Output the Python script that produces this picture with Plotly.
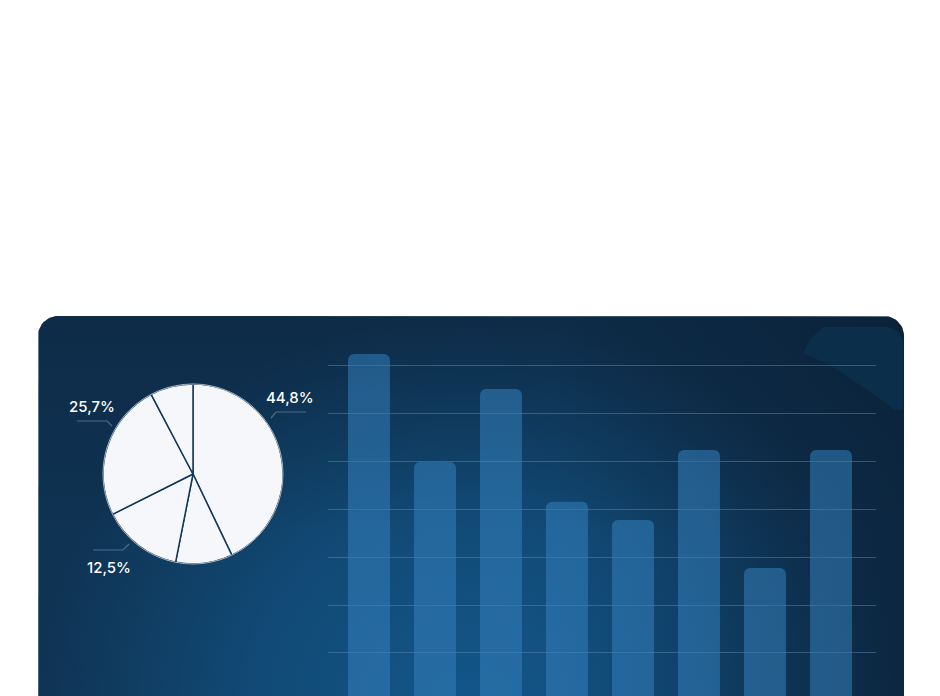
import numpy as np
import plotly.graph_objects as go

# données du camembert (sens horaire depuis midi)
pie_values = [42.9, 10.2, 14.5, 24.7, 7.7]
pie_labels = ["A", "B", "C", "D", "E"]
shown_labels = {0: "44,8%", 3: "25,7%", 2: "12,5%"}

# données des barres
bar_cats = ["B1", "B2", "B3", "B4", "B5", "B6", "B7", "B8"]
bar_values = [72.3, 49.8, 65.0, 41.5, 37.7, 52.3, 27.7, 52.3]

W, H = 940, 696
OFF = 8  # marge de la page
NAVY_LINE = "#12395c"


def paper_x(p):
    return (p - OFF) / W


def paper_y(p):
    return 1 - (p - OFF) / H


def rounded_panel(x0, x1, y0, y1, r, n=16):
    # contour d'un panneau aux coins supérieurs arrondis (coords pixels)
    xs, ys = [x0, x0], [y1, y0 + r]
    t = np.linspace(np.pi, 1.5 * np.pi, n)
    xs += list(x0 + r + r * np.cos(t)); ys += list(y0 + r + r * np.sin(t))
    t = np.linspace(1.5 * np.pi, 2 * np.pi, n)
    xs += list(x1 - r + r * np.cos(t)); ys += list(y0 + r + r * np.sin(t))
    xs += [x1, x0]; ys += [y1, y1]
    return xs, ys


fig = go.Figure()

# panneau de fond, dégradé radial
px, py = rounded_panel(38, 904, 316, 1090, 20)
fig.add_trace(go.Scatter(
    x=px, y=py, mode="lines", fill="toself", line=dict(width=0),
    fillgradient=dict(type="radial",
                      colorscale=[[0, "#13568a"], [0.5, "#114a76"], [1, "#0f3353"]]),
    hoverinfo="skip", showlegend=False, xaxis="x", yaxis="y",
))
# assombrissement côté droit
fig.add_trace(go.Scatter(
    x=px, y=py, mode="lines", fill="toself", line=dict(width=0),
    fillgradient=dict(type="horizontal",
                      colorscale=[[0, "rgba(8,20,36,0)"], [0.6, "rgba(8,20,36,0)"],
                                  [1, "rgba(8,20,36,0.4)"]]),
    hoverinfo="skip", showlegend=False, xaxis="x", yaxis="y",
))
# assombrissement en haut
fig.add_trace(go.Scatter(
    x=px, y=py, mode="lines", fill="toself", line=dict(width=0),
    fillgradient=dict(type="vertical",
                      colorscale=[[0, "rgba(8,20,36,0)"], [0.72, "rgba(8,20,36,0)"],
                                  [1, "rgba(8,20,36,0.25)"]]),
    hoverinfo="skip", showlegend=False, xaxis="x", yaxis="y",
))
# tache en haut à droite
fig.add_trace(go.Scatter(
    x=[823, 888, 897, 903, 903, 895, 860, 830, 803, 810, 823],
    y=[327, 327, 331, 340, 410, 410, 385, 365, 353, 340, 327],
    mode="lines", fill="toself", line=dict(width=0), fillcolor="#0b2e4b",
    hoverinfo="skip", showlegend=False, xaxis="x", yaxis="y",
))

# barres
fig.add_trace(go.Bar(
    x=bar_cats, y=bar_values, width=0.636,
    marker=dict(color="rgba(52,128,187,0.55)", line=dict(width=0)),
    hoverinfo="skip", showlegend=False, xaxis="x2", yaxis="y2",
))

# camembert
fig.add_trace(go.Pie(
    values=pie_values, labels=pie_labels, sort=False, direction="clockwise",
    rotation=0, textinfo="none", hoverinfo="skip", showlegend=False,
    marker=dict(colors=["#f5f7fa"] * len(pie_values),
                line=dict(color=NAVY_LINE, width=1.5)),
    domain=dict(x=[paper_x(103), paper_x(283)], y=[paper_y(564), paper_y(384)]),
))

# étiquettes et lignes de rappel
label_pos = {0: (290, 397), 3: (92, 406), 2: (109, 567)}
leaders = {
    0: [(271, 418), (276, 412), (306, 412)],
    3: [(77, 421), (107, 421), (112, 426)],
    2: [(93, 550), (123, 550), (129, 544)],
}
annotations = []
shapes = []
for i, txt in shown_labels.items():
    lx, ly = label_pos[i]
    annotations.append(dict(
        x=lx, y=ly, xref="x", yref="y", text=txt, showarrow=False,
        font=dict(family="Inter, Noto Sans, sans-serif", size=15, color="#ffffff", weight=500),
    ))
    pts = leaders[i]
    path = "M " + " L ".join(f"{a},{b}" for a, b in pts)
    shapes.append(dict(type="path", path=path, xref="x", yref="y",
                       line=dict(color="#4f6d8a", width=1.2)))

# liseré gris du disque
shapes.append(dict(type="circle", xref="x", yref="y", x0=103, x1=283, y0=384, y1=564,
                   line=dict(color="#a9b4bf", width=1), layer="above"))

fig.update_layout(
    width=W, height=H,
    margin=dict(l=0, r=0, t=0, b=0),
    paper_bgcolor="#ffffff", plot_bgcolor="rgba(0,0,0,0)",
    barcornerradius=6,
    xaxis=dict(range=[OFF, W + OFF], domain=[0, 1], visible=False, fixedrange=True),
    yaxis=dict(range=[H + OFF, OFF], domain=[0, 1], visible=False, fixedrange=True),
    xaxis2=dict(range=[-0.621, 7.682], domain=[paper_x(328), paper_x(876)], anchor="y2",
                showgrid=False, showticklabels=False, zeroline=False, showline=False,
                ticks=""),
    yaxis2=dict(range=[1.04 - OFF / 4.8, 75.21], domain=[0, paper_y(340)], anchor="x2",
                tick0=0, dtick=10, showgrid=True, gridcolor="rgba(100,145,185,0.45)",
                gridwidth=1, showticklabels=False, zeroline=False, showline=False,
                ticks=""),
    annotations=annotations,
    shapes=shapes,
)

fig.write_html("out.html")
